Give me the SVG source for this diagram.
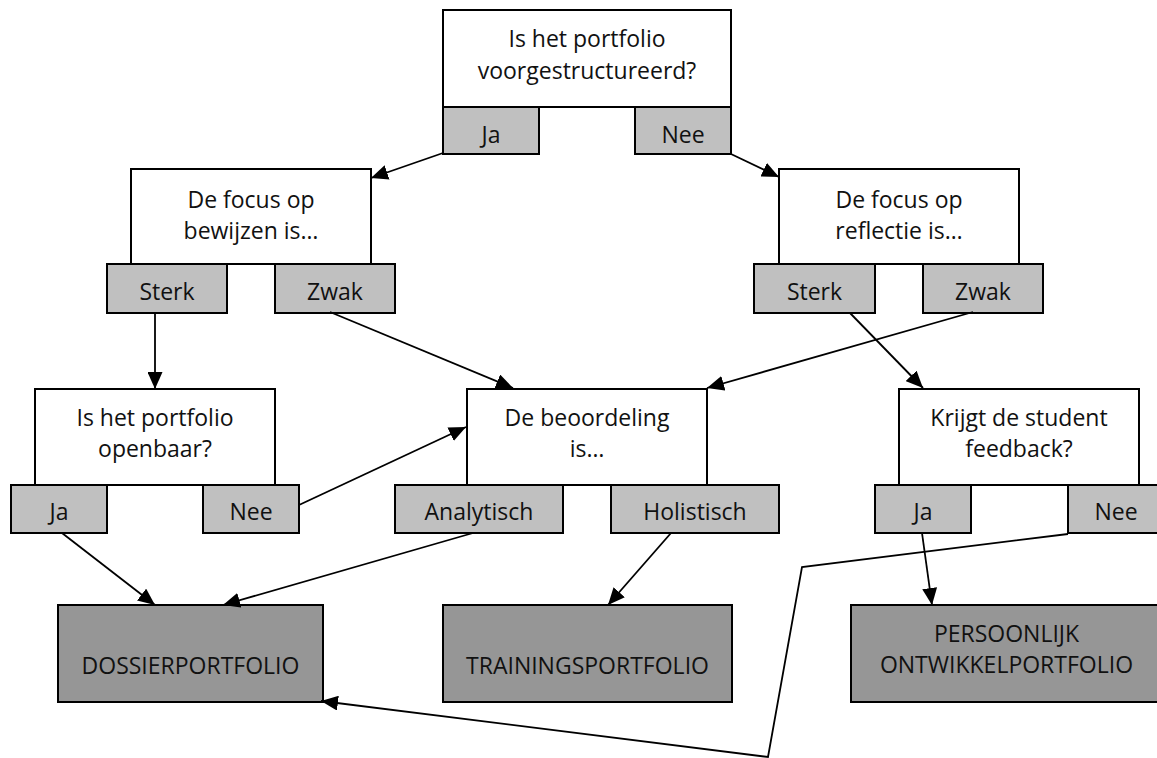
<svg xmlns="http://www.w3.org/2000/svg" width="1157" height="758" viewBox="0 0 1157 758">
<style>
.q{fill:#ffffff;stroke:#000;stroke-width:2}
.t{fill:#c0c0c0;stroke:#000;stroke-width:2}
.r{fill:#969696;stroke:#000;stroke-width:2}
text{font-family:"Open Sans","Noto Sans","DejaVu Sans",sans-serif;font-size:23px;fill:#111;text-anchor:middle}
.c line,.c polyline{stroke:#000;stroke-width:1.8;fill:none;marker-end:url(#ah)}
</style>
<defs>
<marker id="ah" markerUnits="userSpaceOnUse" markerWidth="18" markerHeight="15" refX="17" refY="7.5" orient="auto">
<path d="M0,0 L17,7.5 L0,15 z" fill="#000"/>
</marker>
</defs>
<rect width="1157" height="758" fill="#fff"/>
<g id="q-structuur">
<rect class="q" x="443" y="10" width="288" height="97"/>
<text x="587" y="47">Is het portfolio</text>
<text x="587" y="79">voorgestructureerd?</text>
<rect class="t" x="443" y="107" width="96" height="47"/>
<text x="491" y="143">Ja</text>
<rect class="t" x="635" y="107" width="96" height="47"/>
<text x="683" y="143">Nee</text>
</g>
<g id="q-bewijzen">
<rect class="q" x="131" y="169" width="240" height="95"/>
<text x="251" y="208">De focus op</text>
<text x="251" y="239">bewijzen is…</text>
<rect class="t" x="107" y="264" width="120" height="49"/>
<text x="167" y="300">Sterk</text>
<rect class="t" x="275" y="264" width="120" height="49"/>
<text x="335" y="300">Zwak</text>
</g>
<g id="q-reflectie">
<rect class="q" x="779" y="169" width="240" height="95"/>
<text x="899" y="208">De focus op</text>
<text x="899" y="239">reflectie is…</text>
<rect class="t" x="754" y="264" width="121" height="49"/>
<text x="814.5" y="300">Sterk</text>
<rect class="t" x="923" y="264" width="120" height="49"/>
<text x="983" y="300">Zwak</text>
</g>
<g id="q-openbaar">
<rect class="q" x="35" y="389" width="240" height="96"/>
<text x="155" y="426">Is het portfolio</text>
<text x="155" y="457">openbaar?</text>
<rect class="t" x="11" y="485" width="96" height="48"/>
<text x="59" y="520">Ja</text>
<rect class="t" x="203" y="485" width="96" height="48"/>
<text x="251" y="520">Nee</text>
</g>
<g id="q-beoordeling">
<rect class="q" x="467" y="389" width="240" height="96"/>
<text x="587" y="426">De beoordeling</text>
<text x="587" y="457">is…</text>
<rect class="t" x="395" y="485" width="168" height="48"/>
<text x="479" y="520">Analytisch</text>
<rect class="t" x="611" y="485" width="168" height="48"/>
<text x="695" y="520">Holistisch</text>
</g>
<g id="q-feedback">
<rect class="q" x="899" y="389" width="240" height="96"/>
<text x="1019" y="426">Krijgt de student</text>
<text x="1019" y="457">feedback?</text>
<rect class="t" x="875" y="485" width="96" height="48"/>
<text x="923" y="520">Ja</text>
<rect class="t" x="1068" y="485" width="96" height="48"/>
<text x="1116" y="520">Nee</text>
</g>
<g id="r-dossier">
<rect class="r" x="58" y="605" width="265" height="97"/>
<text x="190.5" y="674">DOSSIERPORTFOLIO</text>
</g>
<g id="r-training">
<rect class="r" x="443" y="605" width="289" height="97"/>
<text x="587.5" y="674">TRAININGSPORTFOLIO</text>
</g>
<g id="r-persoonlijk">
<rect class="r" x="851" y="605" width="311" height="97"/>
<text x="1006.5" y="642">PERSOONLIJK</text>
<text x="1006.5" y="673">ONTWIKKELPORTFOLIO</text>
</g>
<g id="connectors" class="c">
<line x1="443" y1="153" x2="371" y2="178"/>
<line x1="731" y1="154" x2="779" y2="177"/>
<line x1="155" y1="313" x2="155" y2="389"/>
<line x1="330" y1="312" x2="513" y2="388"/>
<line x1="973" y1="312" x2="707" y2="388"/>
<line x1="850" y1="313" x2="923" y2="388"/>
<line x1="299" y1="505" x2="466" y2="427"/>
<line x1="62" y1="533" x2="155" y2="605"/>
<line x1="473" y1="533" x2="223" y2="605"/>
<line x1="671" y1="533" x2="608" y2="605"/>
<line x1="922" y1="533" x2="932" y2="605"/>
<polyline points="1068,534 802,567 768,757 321,701"/>
</g>
</svg>
